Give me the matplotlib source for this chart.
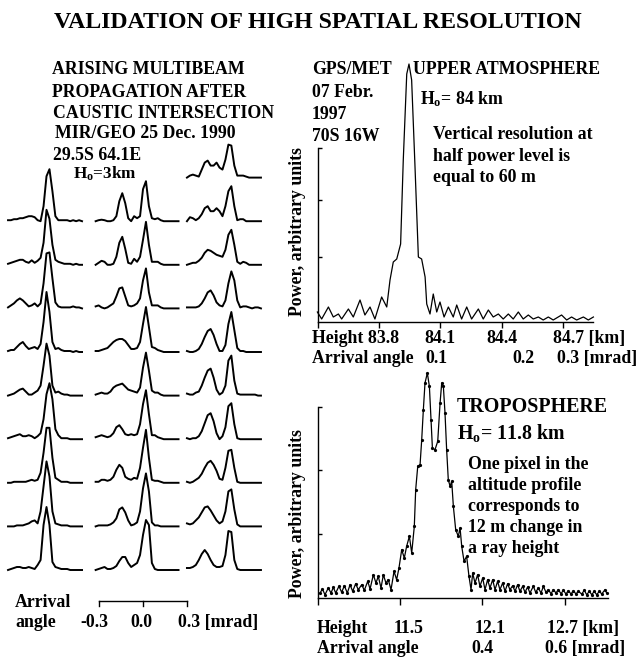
import matplotlib
matplotlib.use("Agg")
import matplotlib.pyplot as plt

plt.rcParams['font.family'] = ['Liberation Serif', 'DejaVu Serif']
plt.rcParams['font.weight'] = 'bold'
plt.rcParams['mathtext.fontset'] = 'custom'
plt.rcParams['mathtext.rm'] = 'Liberation Serif:bold'
plt.rcParams['mathtext.it'] = 'Liberation Serif:italic:bold'
plt.rcParams['mathtext.bf'] = 'Liberation Serif:bold'

# ---------------- data: left panel (multibeam traces) ----------------
angle = [-0.32, -0.30, -0.28, -0.26, -0.24, -0.22, -0.20, -0.18, -0.16, -0.14,
         -0.12, -0.10, -0.08, -0.06, -0.04, -0.02, 0.00, 0.02, 0.04, 0.06,
         0.08, 0.10, 0.12, 0.14, 0.16, 0.18, 0.20, 0.22, 0.24]
scale_ticks = [-0.3, 0.0, 0.3]

col1 = [
    [0.1,0.1,0.2,0.2,0.3,0.3,0.4,0.5,0.5,0.4,0.1,0.0,1.5,4.5,5.2,3.0,0.5,0.1,0.1,0.1,0.1,0.0,0.1,0.0,0.1,0.0],
    [0.1,0.2,0.3,0.4,0.5,0.5,0.3,0.2,0.45,0.2,0.4,0.7,2.2,5.5,4.6,2.0,0.5,0.3,0.2,0.1,0.1,0.1,0.0,0.1,0.0,0.0],
    [0.1,0.3,0.5,0.8,1.0,0.8,0.5,0.2,0.3,0.5,0.2,0.5,2.5,5.5,5.6,3.0,0.6,0.2,0.1,0.1,0.1,0.1,0.2,0.1,0.1,0.0],
    [0.1,0.2,0.2,0.5,0.8,1.0,0.6,0.3,0.4,0.5,0.3,0.8,3.0,6.0,4.0,1.0,0.3,0.4,0.2,0.1,0.1,0.1,0.0,0.1,0.0,0.0],
    [0.0,0.1,0.2,0.4,0.6,0.7,0.4,0.1,0.1,0.3,0.5,1.0,3.0,5.2,4.0,1.0,0.3,0.4,0.2,0.1,0.1,0.0,0.0,0.0,0.0,0.0],
    [0.1,0.2,0.3,0.4,0.5,0.3,0.3,0.4,0.3,0.1,0.3,0.6,2.0,4.5,5.6,4.0,1.0,0.4,0.1,0.1,0.1,0.0,0.0,0.0,0.0,0.0],
    [0.0,0.0,0.1,0.1,0.1,0.1,0.1,0.2,0.3,0.2,0.3,1.0,3.0,5.5,5.5,2.5,0.5,0.3,0.1,0.1,0.1,0.0,0.0,0.0,0.0,0.0],
    [0.0,0.0,0.0,0.1,0.1,0.1,0.2,0.3,0.5,0.6,0.3,1.5,4.0,6.5,5.0,1.5,0.3,0.2,0.1,0.1,0.1,0.0,0.0,0.0,0.0,0.0],
    [0.0,0.1,0.2,0.3,0.3,0.2,0.2,0.3,0.2,0.1,0.5,1.0,4.5,6.3,4.5,0.8,0.3,0.2,0.1,0.1,0.1,0.0,0.0,0.0,0.0,0.0],
]
col2 = [
    [0.0,0.1,0.15,0.1,0.0,0.0,0.1,0.5,2.0,2.8,1.8,0.3,0.0,0.5,0.3,0.5,3.2,4.0,1.5,0.3,0.2,0.3,0.1,0.0,0.0,0.0,0.0,0.0,0.0],
    [0.0,0.2,0.4,0.3,0.0,0.0,0.1,0.8,2.2,2.8,1.6,0.2,0.1,0.6,0.3,0.8,2.5,4.3,2.0,0.3,0.3,0.3,0.1,0.0,0.0,0.0,0.0,0.0,0.0],
    [0.2,0.3,0.1,0.0,0.1,0.3,0.5,1.2,2.0,2.1,1.2,0.3,0.2,0.3,0.5,1.0,2.8,4.0,1.6,0.3,0.3,0.3,0.1,0.0,0.0,0.0,0.0,0.0,0.0],
    [0.1,0.1,0.2,0.3,0.4,0.7,1.0,1.2,1.3,1.3,1.1,0.7,0.3,0.3,0.4,1.0,2.8,4.5,2.5,0.5,0.4,0.2,0.1,0.0,0.0,0.0,0.0,0.0,0.0],
    [0.1,0.2,0.3,0.2,0.2,0.4,0.8,1.0,1.1,1.2,0.9,0.6,0.5,0.4,0.3,0.8,2.8,4.3,2.5,0.5,0.3,0.3,0.1,0.0,0.0,0.0,0.0,0.0,0.0],
    [0.2,0.3,0.4,0.3,0.2,0.3,0.6,1.2,1.4,1.0,0.5,0.4,0.5,0.4,0.5,1.5,3.5,4.9,2.5,0.4,0.4,0.2,0.1,0.0,0.0,0.0,0.0,0.0,0.0],
    [0.1,0.1,0.3,0.3,0.2,0.3,0.6,1.3,1.8,1.5,0.6,0.4,0.3,0.5,0.4,1.5,3.5,5.3,2.5,0.3,0.2,0.2,0.1,0.0,0.0,0.0,0.0,0.0,0.0],
    [0.0,0.1,0.1,0.1,0.1,0.2,0.4,0.8,1.7,1.9,1.4,0.6,0.1,0.2,0.4,1.5,3.8,5.3,3.5,0.4,0.1,0.1,0.0,0.0,0.0,0.0,0.0,0.0,0.0],
    [0.0,0.1,0.2,0.3,0.1,0.1,0.2,0.4,0.9,1.3,1.3,0.7,0.3,0.5,0.7,1.5,3.5,5.0,4.5,0.7,0.1,0.0,0.0,0.0,0.0,0.0,0.0,0.0,0.0],
]
col3 = [
    [0.0,0.2,0.3,0.2,0.1,0.8,1.5,1.7,1.2,1.2,1.5,1.0,0.8,1.8,3.3,3.2,1.2,0.2,0.2,0.2,0.1,0.0,0.0,0.0,0.0,0.0],
    [0.0,0.4,0.3,0.1,0.3,0.7,1.3,1.5,1.0,1.0,1.3,1.0,0.5,1.5,3.0,3.5,1.5,0.1,0.2,0.2,0.0,0.0,0.0,0.0,0.0,0.0],
    [0.0,0.1,0.2,0.2,0.4,0.7,1.2,1.5,1.4,1.2,1.0,0.9,0.8,1.5,3.0,3.5,2.0,0.3,0.1,0.3,0.2,0.0,0.0,0.0,0.0,0.0],
    [0.1,0.1,0.1,0.1,0.2,0.5,1.0,1.6,1.8,1.3,0.6,0.3,0.2,0.8,2.5,3.7,2.8,0.8,0.1,0.2,0.2,0.1,0.0,0.1,0.1,0.0],
    [0.1,0.0,0.0,0.1,0.3,0.8,1.5,2.1,2.3,1.7,0.8,0.1,0.1,0.7,2.8,4.0,2.2,0.4,0.1,0.1,0.0,0.0,0.0,0.0,0.0,0.0],
    [0.2,0.1,0.1,0.3,0.4,1.0,1.8,2.5,2.7,1.8,0.6,0.1,0.3,1.0,3.5,4.0,1.5,0.2,0.1,0.1,0.1,0.1,0.1,0.1,0.0,0.0],
    [0.1,0.0,0.1,0.1,0.3,0.8,1.6,2.4,2.6,1.8,0.6,0.0,0.3,1.2,3.3,3.6,1.5,0.1,0.0,0.0,0.0,0.0,0.0,0.0,0.0,0.0],
    [0.1,0.0,0.1,0.3,0.5,0.9,1.5,2.0,2.2,1.8,1.2,0.4,0.3,1.5,3.2,3.3,1.5,0.1,0.0,0.0,0.0,0.0,0.0,0.0,0.0,0.0],
    [0.3,0.2,0.3,0.6,0.9,1.4,1.9,2.0,1.6,1.1,0.6,0.3,0.5,1.5,3.5,3.7,1.7,0.2,0.0,0.0,0.0,0.0,0.0,0.0,0.0,0.0],
    [0.2,0.2,0.3,0.5,1.0,1.6,2.0,1.6,1.0,0.5,0.3,0.3,0.4,1.5,3.9,3.8,1.0,0.1,0.0,0.0,0.0,0.0,0.0,0.0,0.0,0.0],
]

# ---------------- data: upper atmosphere profile ----------------
height_up = [83.497, 83.518, 83.551, 83.575, 83.600, 83.616, 83.649, 83.673, 83.706, 83.730,
             83.755, 83.779, 83.812, 83.837, 83.853, 83.869, 83.886, 83.905, 83.918, 83.935,
             83.946, 83.959, 83.975, 83.992, 84.008, 84.025, 84.033, 84.049, 84.065, 84.082,
             84.098, 84.118, 84.139, 84.163, 84.180, 84.204, 84.229, 84.253, 84.286, 84.310,
             84.335, 84.359, 84.384, 84.408, 84.433, 84.457, 84.482, 84.506, 84.531, 84.555,
             84.580, 84.604, 84.629, 84.653, 84.694, 84.719, 84.743, 84.768, 84.801, 84.825,
             84.850]
power_up = [1.0, 0.3, 1.5, 0.5, 0.8, 0.3, 1.3, 0.5, 2.2, 0.7,
            1.5, 0.3, 2.5, 1.5, 4.2, 6.0, 6.3, 7.8, 16.2, 24.8,
            25.8, 24.2, 15.8, 6.5, 6.3, 4.5, 1.8, 0.8, 2.8, 1.0,
            2.0, 0.5, 1.5, 0.5, 1.7, 0.3, 1.5, 0.3, 1.3, 0.3,
            1.2, 0.5, 0.8, 0.3, 0.8, 0.3, 1.0, 0.3, 0.7, 0.3,
            0.5, 0.2, 0.5, 0.2, 0.7, 0.2, 0.5, 0.2, 0.5, 0.2,
            0.5]
up_xticks = [83.5, 83.8, 84.1, 84.4, 84.7]
up_xlabels = ['84.1', '84.4']
up_yticks = [6.5, 12.2, 17.4]

# ---------------- data: troposphere profile ----------------
height_tr = [10.915, 10.932, 10.951, 10.975, 10.995, 11.012, 11.029, 11.053, 11.073, 11.092,
             11.114, 11.134, 11.153, 11.175, 11.194, 11.219, 11.238, 11.263, 11.280, 11.304,
             11.323, 11.340, 11.360, 11.377, 11.396, 11.413, 11.433, 11.455, 11.474, 11.491,
             11.511, 11.530, 11.547, 11.567, 11.584, 11.603, 11.613, 11.628, 11.645, 11.657,
             11.669, 11.681, 11.698, 11.713, 11.725, 11.735, 11.754, 11.774, 11.791, 11.803,
             11.815, 11.827, 11.839, 11.851, 11.864, 11.876, 11.888, 11.905, 11.924, 11.937,
             11.949, 11.966, 11.985, 12.002, 12.017, 12.029, 12.046, 12.065, 12.082, 12.102,
             12.119, 12.138, 12.155, 12.175, 12.192, 12.211, 12.228, 12.248, 12.265, 12.284,
             12.301, 12.321, 12.338, 12.357, 12.374, 12.394, 12.411, 12.430, 12.447, 12.472,
             12.489, 12.508, 12.528, 12.545, 12.564, 12.581, 12.601, 12.618, 12.637, 12.654,
             12.674, 12.691, 12.710, 12.727, 12.747, 12.764, 12.783, 12.800, 12.825, 12.844,
             12.861, 12.881, 12.898, 12.917, 12.934, 12.954, 12.971, 12.995, 13.007]
power_tr = [0.5, 0.9, 0.33, 1.0, 0.5, 1.07, 0.5, 1.17, 0.57, 1.23,
            0.5, 1.33, 0.67, 1.43, 0.83, 1.33, 0.77, 1.67, 0.9, 2.33,
            1.5, 2.17, 1.0, 2.33, 1.5, 1.83, 0.83, 2.67, 1.83, 3.0,
            4.83, 4.0, 5.17, 6.17, 4.5, 7.17, 10.83, 13.17, 13.33, 15.83,
            18.83, 21.5, 22.5, 21.17, 17.83, 15.0, 14.83, 15.67, 19.5, 21.5,
            21.17, 18.5, 14.83, 11.83, 11.17, 11.67, 9.17, 6.83, 6.17, 7.0,
            5.17, 3.67, 4.17, 2.17, 0.83, 2.5, 1.5, 2.33, 1.17, 2.0,
            0.83, 1.83, 1.0, 1.83, 0.83, 1.67, 0.83, 1.5, 0.67, 1.43,
            0.83, 1.23, 0.67, 1.33, 0.67, 1.17, 0.57, 1.1, 0.5, 1.17,
            0.57, 1.0, 0.5, 1.17, 0.57, 0.83, 0.43, 0.83, 0.5, 0.83,
            0.43, 0.77, 0.4, 0.73, 0.4, 0.73, 0.4, 0.67, 0.4, 0.77,
            0.33, 0.67, 0.33, 0.67, 0.33, 0.67, 0.4, 0.83, 0.5]
tr_xticks = [10.9, 11.5, 12.1, 12.7]
tr_xlabels = ['11.5', '12.1']
tr_yticks = [6.4, 12.8, 19.1]

# ---------------- figure ----------------
W, H = 636, 657
fig = plt.figure(figsize=(W / 100, H / 100), dpi=100)
FS = 12.8


def ftext(x, y, s, **kw):
    kw.setdefault('fontsize', FS)
    kw.setdefault('fontweight', 'bold')
    kw.setdefault('va', 'baseline')
    fig.text(x / W, 1 - y / H, s, **kw)


def px_axes(x0, y_top, x1, y_bot):
    return fig.add_axes([x0 / W, 1 - y_bot / H, (x1 - x0) / W, (y_bot - y_top) / H])


# title
ftext(318, 28, 'VALIDATION OF HIGH SPATIAL RESOLUTION', ha='center', fontsize=17.2)

# ---------- left panel ----------
axL = px_axes(0, 120, 275, 610)
axL.set_xlim(-143 / 148, 132 / 148)
axL.set_ylim(0, 49)
axL.axis('off')
row_gap = 4.36
col_offsets = [-0.592, 0.0, 0.617]
for cidx, (col, first_row) in enumerate([(col1, 1), (col2, 1), (col3, 0)]):
    for k, tr in enumerate(col):
        row = first_row + k
        base = 4.0 + (9 - row) * row_gap
        xs = [a + col_offsets[cidx] for a in angle[:len(tr)]]
        axL.plot(xs, [base + v for v in tr], color='black', lw=1.4,
                 solid_joinstyle='round', clip_on=False)
# scale bar
axL.plot([scale_ticks[0], scale_ticks[-1]], [0.9, 0.9], color='black', lw=1.0, clip_on=False)
for t in scale_ticks:
    axL.plot([t, t], [0.9, 0.45], color='black', lw=1.0, clip_on=False)

ftext(52, 74, 'ARISING MULTIBEAM')
ftext(52, 97, 'PROPAGATION AFTER')
ftext(53, 118, 'CAUSTIC INTERSECTION')
ftext(55, 138, 'MIR/GEO 25 Dec. 1990')
ftext(53, 160, '29.5S 64.1E')
ftext(73, 179, r'H$_\mathrm{o}$=3km', fontsize=12.3)
ftext(15, 607, 'Arrival')
ftext(15, 627, 'angle')
ftext(94, 627, '-0.3', ha='center')
ftext(141, 627, '0.0', ha='center')
ftext(178, 627, '0.3 [mrad]', ha='left')

# ---------- upper atmosphere ----------
axU = px_axes(318, 60, 593, 322)
axU.plot(height_up, power_up, color='black', lw=0.9, clip_on=False)
axU.set_xlim(83.5, 83.5 + 275 / 204)
axU.set_ylim(0, 26.2)
for side in ['top', 'right']:
    axU.spines[side].set_visible(False)
axU.spines['left'].set_bounds(0, 17.4)
axU.set_xticks(up_xticks)
axU.set_yticks(up_yticks)
axU.tick_params(axis='x', direction='out', length=4, width=1, labelbottom=False)
axU.tick_params(axis='y', direction='in', length=3, width=1, labelleft=False)
for sp in ['left', 'bottom']:
    axU.spines[sp].set_linewidth(1.0)

ftext(297, 232, 'Power, arbitrary units', rotation=90, ha='center', va='center')
ftext(312, 74, 'GPS/MET')
ftext(312, 97, '07 Febr.')
ftext(312, 119, '1997')
ftext(312, 141, '70S 16W')
ftext(413, 74, 'UPPER ATMOSPHERE')
ftext(420, 104, r'H$_\mathrm{o}$= 84 km')
ftext(433, 139, 'Vertical resolution at')
ftext(433, 161, 'half power level is')
ftext(433, 182, 'equal to 60 m')

ftext(312, 343, 'Height 83.8')
for t, lab in zip(up_xticks[2:4], up_xlabels):
    axU.annotate(lab, xy=(t, 1 - 343 / H), xycoords=('data', 'figure fraction'),
                 ha='center', va='baseline', fontsize=FS, fontweight='bold', annotation_clip=False)
ftext(553, 343, '84.7 [km]')
ftext(312, 363, 'Arrival angle')
ftext(436, 363, '0.1', ha='center')
ftext(523, 363, '0.2', ha='center')
ftext(557, 363, '0.3 [mrad]')

# ---------- troposphere ----------
axT = px_axes(318, 370, 608, 598)
axT.plot(height_tr, power_tr, color='black', lw=0.9, marker='o', markersize=1.3, clip_on=False)
axT.set_xlim(10.9, 10.9 + 290 / 137)
axT.set_ylim(0, 22.8)
for side in ['top', 'right']:
    axT.spines[side].set_visible(False)
axT.spines['left'].set_bounds(0, 19.1)
axT.set_xticks(tr_xticks)
axT.set_yticks(tr_yticks)
axT.tick_params(axis='x', direction='out', length=5, width=1, labelbottom=False)
axT.tick_params(axis='y', direction='in', length=3, width=1, labelleft=False)
for sp in ['left', 'bottom']:
    axT.spines[sp].set_linewidth(1.0)

ftext(297, 514, 'Power, arbitrary units', rotation=90, ha='center', va='center')
ftext(457, 412, 'TROPOSPHERE', fontsize=14.4)
ftext(457, 439, r'H$_\mathrm{o}$= 11.8 km', fontsize=14.4)
ftext(468, 469, 'One pixel in the')
ftext(468, 490, 'altitude profile')
ftext(468, 511, 'corresponds to')
ftext(468, 532, '12 m change in')
ftext(468, 553, 'a ray height')

ftext(317, 633, 'Height')
for t, lab in zip(tr_xticks[1:3], tr_xlabels):
    axT.annotate(lab, xy=(t + 0.06, 1 - 633 / H), xycoords=('data', 'figure fraction'),
                 ha='center', va='baseline', fontsize=FS, fontweight='bold', annotation_clip=False)
ftext(547, 633, '12.7 [km]')
ftext(317, 653, 'Arrival angle')
ftext(482, 653, '0.4', ha='center')
ftext(545, 653, '0.6 [mrad]')

fig.savefig('out.png', dpi=100)
